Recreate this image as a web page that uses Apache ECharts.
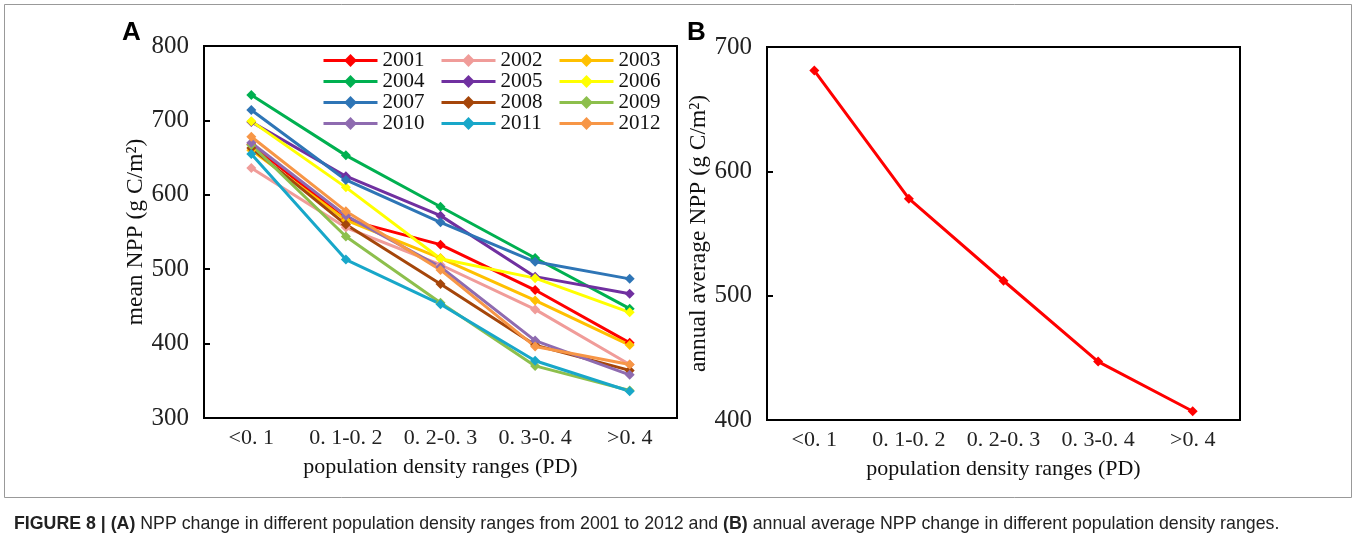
<!DOCTYPE html>
<html>
<head>
<meta charset="utf-8">
<script src="https://cdn.jsdelivr.net/npm/echarts@6/dist/echarts.min.js"></script>
<style>
html,body{margin:0;padding:0;background:#fff;}
#c{width:1356px;height:544px;}
</style>
</head>
<body>
<div id="c"></div>
<script>
// ---- data ----
const categories = ['<0. 1', '0. 1-0. 2', '0. 2-0. 3', '0. 3-0. 4', '>0. 4'];
const years = ['2001','2002','2003','2004','2005','2006','2007','2008','2009','2010','2011','2012'];
const v2001 = [668, 567, 533, 472, 401];
const v2002 = [636, 556, 506, 446, 372];
const v2003 = [660, 566, 515, 458, 398];
const v2004 = [734, 653, 584, 515, 447];
const v2005 = [698, 625, 572, 490, 467];
const v2006 = [699, 610, 514, 488, 442];
const v2007 = [714, 620, 563, 510, 487];
const v2008 = [663, 560, 480, 398, 364];
const v2009 = [667, 544, 455, 370, 337];
const v2010 = [670, 572, 503, 404, 358];
const v2011 = [655, 513, 453, 377, 336];
const v2012 = [678, 578, 499, 396, 372];
const annualAverage = [681, 578, 512, 447, 407];
const yTicksA = [300, 400, 500, 600, 700, 800];
const yTicksB = [400, 500, 600, 700];

const yearValues = [v2001,v2002,v2003,v2004,v2005,v2006,v2007,v2008,v2009,v2010,v2011,v2012];
const colors = ['#FF0000','#F09C99','#FFC000','#00B050','#7030A0','#FFFF00','#2E75B6','#A5460A','#8DBF4C','#8E6BB0','#18A7C9','#F79646'];

const serif = 'Liberation Serif';
const chart = echarts.init(document.getElementById('c'));

const series = yearValues.map((vals, i) => ({
  name: years[i], type: 'line', xAxisIndex: 0, yAxisIndex: 0,
  data: vals, symbol: 'diamond', symbolSize: 10,
  lineStyle: {width: 3, color: colors[i]},
  itemStyle: {color: colors[i]},
  emphasis: {disabled: true}, animation: false
}));
series.push({
  name: 'annual average', type: 'line', xAxisIndex: 1, yAxisIndex: 1,
  data: annualAverage, symbol: 'diamond', symbolSize: 10,
  lineStyle: {width: 3, color: '#FF0000'}, itemStyle: {color: '#FF0000'},
  animation: false
});

function legendCol(left, names) {
  return {
    orient: 'vertical', left: left, top: 50, itemGap: 0,
    itemWidth: 54, itemHeight: 16, data: names,
    lineStyle: {width: 3},
    textStyle: {fontFamily: serif, fontSize: 21, color: '#111', lineHeight: 21, padding: [0,0,0,0]},
    selectedMode: false, padding: 0
  };
}

function xAxisCfg(grid) {
  return {
    type: 'category', gridIndex: grid, data: categories, boundaryGap: true,
    axisLine: {lineStyle: {color: '#000', width: 2}},
    axisTick: {inside: true, length: 6, interval: 0, lineStyle: {color: '#000', width: 2}},
    axisLabel: {fontFamily: serif, fontSize: 22, color: '#222', margin: 9, interval: 0},
    name: 'population density ranges (PD)', nameLocation: 'middle', nameGap: 38,
    nameTextStyle: {fontFamily: serif, fontSize: 22, color: '#111'}
  };
}
function yAxisCfg(grid, min, max, name, gap) {
  return {
    type: 'value', gridIndex: grid, min: min, max: max, interval: 100,
    axisLine: {show: true, lineStyle: {color: '#000', width: 2}},
    axisTick: {show: true, inside: true, length: 6, lineStyle: {color: '#000', width: 2}},
    splitLine: {show: false},
    axisLabel: {fontFamily: serif, fontSize: 25, color: '#222', margin: 15},
    name: name, nameLocation: 'middle', nameGap: gap,
    nameTextStyle: {fontFamily: serif, fontSize: 23.5, color: '#111'}
  };
}

chart.setOption({
  animation: false,
  backgroundColor: '#fff',
  grid: [
    {left: 204, top: 46, width: 473, height: 372, show: true, borderColor: '#000', borderWidth: 2, containLabel: false},
    {left: 767, top: 47, width: 473, height: 373, show: true, borderColor: '#000', borderWidth: 2, containLabel: false}
  ],
  legend: [
    legendCol(322, ['2001','2004','2007','2010']),
    legendCol(440, ['2002','2005','2008','2011']),
    legendCol(558, ['2003','2006','2009','2012'])
  ],
  xAxis: [xAxisCfg(0), xAxisCfg(1)],
  yAxis: [
    yAxisCfg(0, yTicksA[0], yTicksA[yTicksA.length-1], 'mean NPP (g C/m²)', 55),
    yAxisCfg(1, yTicksB[0], yTicksB[yTicksB.length-1], 'annual average NPP (g C/m²)', 52)
  ],
  series: series,
  graphic: [
    {type: 'rect', shape: {x: 4.5, y: 4.5, width: 1347, height: 493}, style: {fill: 'none', stroke: '#999', lineWidth: 1}, silent: true},
    {type: 'text', left: 122, top: 20, style: {text: 'A', font: 'bold 26px "Liberation Sans", Arial', fill: '#000'}},
    {type: 'text', left: 687, top: 20, style: {text: 'B', font: 'bold 26px "Liberation Sans", Arial', fill: '#000'}},
    {type: 'text', left: 14, top: 515, style: {
      text: '{b|FIGURE 8 | (A)} NPP change in different population density ranges from 2001 to 2012 and {b|(B)} annual average NPP change in different population density ranges.',
      fontFamily: 'Liberation Sans', fontSize: 17.75, fill: '#222',
      rich: {b: {fontWeight: 'bold', fontFamily: 'Liberation Sans', fontSize: 17.75, fill: '#222'}}
    }}
  ]
});
</script>
</body>
</html>
